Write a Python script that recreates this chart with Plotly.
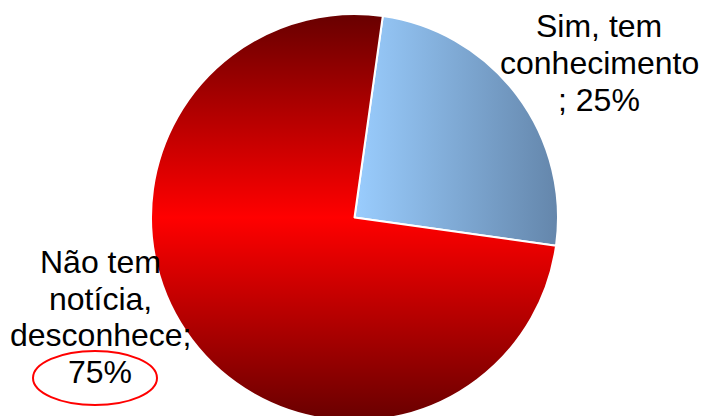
import plotly.graph_objects as go

# ---- data ----
categories = ["Sim, tem conhecimento", "Não tem notícia, desconhece"]
values = [25, 75]
label_lines_sim = ["Sim, tem", "conhecimento", "; 25%"]
label_lines_nao = ["Não tem", "notícia,", "desconhece;", "75%"]

W, H = 704, 421
FONT = "Liberation Sans, Arial, sans-serif"
FS = 32

fig = go.Figure()
fig.add_trace(go.Pie(
    labels=categories,
    values=values,
    sort=False,
    direction="clockwise",
    rotation=8,
    textinfo="none",
    hoverinfo="skip",
    showlegend=False,
    marker=dict(colors=["#82AAD6", "#D00000"], line=dict(color="white", width=2)),
    domain=dict(x=[0.0071, 1], y=[0, 407 / H]),
))

def px(x):
    return x / W

def py(y):
    return 1 - y / H

off = 0.3465 * FS
for txt, yb in zip(label_lines_sim, [37, 74, 110.7]):
    fig.add_annotation(x=px(599), y=py(yb - off), xref="paper", yref="paper", text=txt,
                       showarrow=False, xanchor="center", yanchor="middle",
                       font=dict(family=FONT, size=FS, color="black"))
for txt, yb in zip(label_lines_nao, [273, 310, 346, 383]):
    fig.add_annotation(x=px(100), y=py(yb - off), xref="paper", yref="paper", text=txt,
                       showarrow=False, xanchor="center", yanchor="middle",
                       font=dict(family=FONT, size=FS, color="black"))

fig.add_shape(type="circle", xref="paper", yref="paper",
              x0=px(33), x1=px(157), y0=py(405), y1=py(351),
              line=dict(color="#FF0000", width=2), fillcolor="rgba(0,0,0,0)")

fig.update_layout(width=W, height=H, margin=dict(l=0, r=0, t=0, b=0),
                  paper_bgcolor="white", plot_bgcolor="white")

post = """
document.body.style.margin = '0';
document.body.style.padding = '0';
document.body.style.overflow = 'hidden';
document.documentElement.style.overflow = 'hidden';
var gd = document.getElementById('{plot_id}');
function applyGrad(){
  var svg = gd.querySelector('svg.main-svg');
  if(!svg) return;
  var ns = 'http://www.w3.org/2000/svg';
  if(!document.getElementById('gradBlue')){
    var defs = svg.querySelector('defs') || svg.insertBefore(document.createElementNS(ns,'defs'), svg.firstChild);
    function mk(id, x2, y2, stops){
      var g = document.createElementNS(ns,'linearGradient');
      g.setAttribute('id', id);
      g.setAttribute('x1','0'); g.setAttribute('y1','0');
      g.setAttribute('x2', x2); g.setAttribute('y2', y2);
      stops.forEach(function(s){
        var st = document.createElementNS(ns,'stop');
        st.setAttribute('offset', s[0]); st.setAttribute('stop-color', s[1]);
        g.appendChild(st);
      });
      defs.appendChild(g);
    }
    mk('gradBlue','1','0',[['0','#9ACDFE'],['1','#6486AB']]);
    mk('gradRed','0','1',[['0','#680000'],['0.5','#FF0000'],['1','#680000']]);
  }
  var paths = gd.querySelectorAll('g.slice path.surface');
  if(paths.length >= 2){
    paths[0].style.fill = 'url(#gradBlue)';
    paths[1].style.fill = 'url(#gradRed)';
  }
}
applyGrad();
if(gd.on) gd.on('plotly_afterplot', applyGrad);
"""

fig.write_html("out.html", post_script=post, config={"displayModeBar": False})
